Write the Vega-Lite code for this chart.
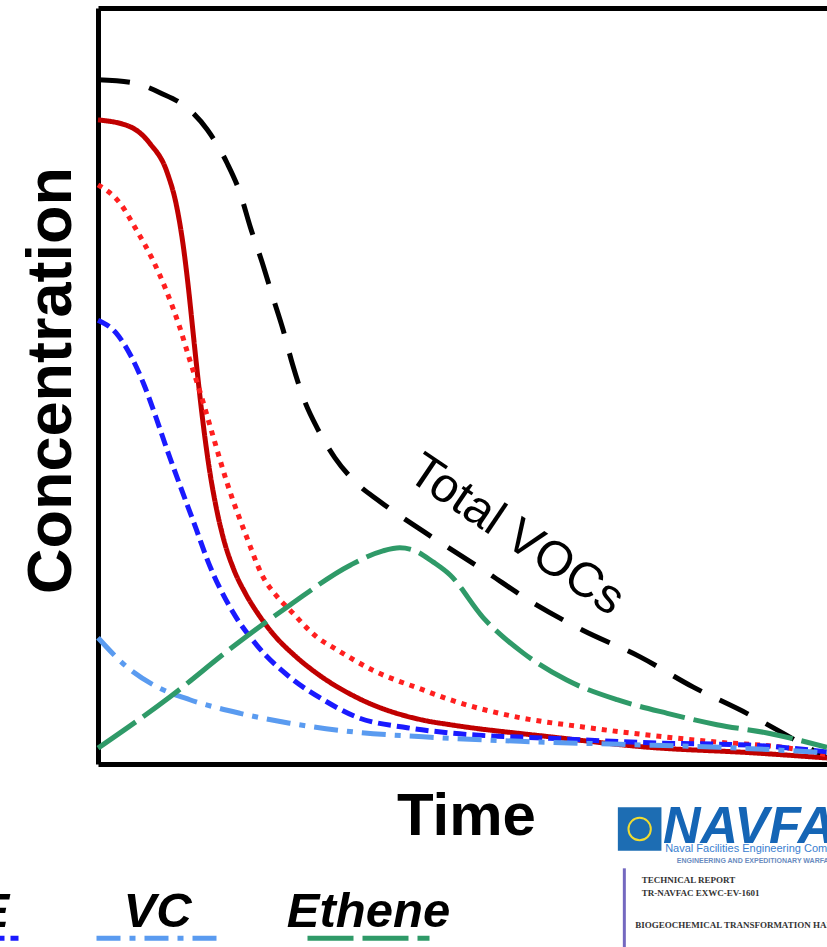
{
  "$schema": "https://vega.github.io/schema/vega-lite/v6.json",
  "width": 729,
  "height": 756,
  "autosize": {"type": "none"},
  "padding": {"left": 98, "top": 8, "right": 0, "bottom": 183},
  "background": "white",
  "config": {
    "view": {"stroke": null},
    "legend": {
      "orient": "none",
      "legendX": -604,
      "legendY": 866.5,
      "direction": "horizontal",
      "padding": 0,
      "symbolType": "stroke",
      "symbolSize": 14884,
      "symbolStrokeWidth": 5,
      "labelFont": "Liberation Sans",
      "labelFontSize": 49,
      "labelFontStyle": "italic",
      "labelFontWeight": "bold",
      "labelColor": "black",
      "labelAlign": "center",
      "labelBaseline": "line-bottom",
      "labelLineHeight": 55,
      "labelOffset": -63.5,
      "labelLimit": 400,
      "columnPadding": 57
    }
  },
  "datasets": {
    "voc": [
      {"t": 0, "c": 90.5}, {"t": 4.8, "c": 90.1}, {"t": 8.5, "c": 88.8}, {"t": 12.6, "c": 86.5},
      {"t": 15.0, "c": 83.9}, {"t": 17.7, "c": 79.5}, {"t": 19.5, "c": 75.5}, {"t": 20.9, "c": 71.0},
      {"t": 22.5, "c": 66.4}, {"t": 23.9, "c": 62.0}, {"t": 25.4, "c": 57.4}, {"t": 26.7, "c": 52.8},
      {"t": 28.3, "c": 48.1}, {"t": 30.2, "c": 44.2}, {"t": 32.5, "c": 40.5}, {"t": 35.3, "c": 37.3},
      {"t": 38.7, "c": 34.7}, {"t": 44.9, "c": 30.6}, {"t": 52.8, "c": 25.7}, {"t": 59.7, "c": 21.3},
      {"t": 66.5, "c": 17.7}, {"t": 74.3, "c": 14.2}, {"t": 81.6, "c": 10.2}, {"t": 89.0, "c": 6.7},
      {"t": 96.3, "c": 2.8}, {"t": 100, "c": 0.8}
    ],
    "chem": [
      {"series": "PCE", "t": 0, "c": 85.2}, {"series": "PCE", "t": 4.4, "c": 84.3}, {"series": "PCE", "t": 7.1, "c": 82.1},
      {"series": "PCE", "t": 9.5, "c": 78.2}, {"series": "PCE", "t": 10.8, "c": 73.7}, {"series": "PCE", "t": 11.7, "c": 68.5},
      {"series": "PCE", "t": 12.4, "c": 63.0}, {"series": "PCE", "t": 13.0, "c": 57.5}, {"series": "PCE", "t": 13.6, "c": 52.0},
      {"series": "PCE", "t": 14.3, "c": 46.0}, {"series": "PCE", "t": 15.2, "c": 39.5}, {"series": "PCE", "t": 16.2, "c": 34.0},
      {"series": "PCE", "t": 17.3, "c": 29.5}, {"series": "PCE", "t": 18.6, "c": 25.8}, {"series": "PCE", "t": 20.2, "c": 22.6},
      {"series": "PCE", "t": 22.0, "c": 19.8}, {"series": "PCE", "t": 24.2, "c": 17.0}, {"series": "PCE", "t": 26.8, "c": 14.5},
      {"series": "PCE", "t": 30.0, "c": 12.0}, {"series": "PCE", "t": 35.5, "c": 8.8}, {"series": "PCE", "t": 44.6, "c": 5.8},
      {"series": "PCE", "t": 48.3, "c": 5.2}, {"series": "PCE", "t": 62.0, "c": 3.6},
      {"series": "PCE", "t": 75.7, "c": 2.2}, {"series": "PCE", "t": 89.4, "c": 1.5}, {"series": "PCE", "t": 100, "c": 0.8},

      {"series": "TCE", "t": 0, "c": 76.6}, {"series": "TCE", "t": 3.0, "c": 74.2}, {"series": "TCE", "t": 5.3, "c": 70.6},
      {"series": "TCE", "t": 7.5, "c": 66.7}, {"series": "TCE", "t": 9.5, "c": 62.3}, {"series": "TCE", "t": 11.2, "c": 57.8},
      {"series": "TCE", "t": 12.6, "c": 53.4}, {"series": "TCE", "t": 14.0, "c": 49.2}, {"series": "TCE", "t": 15.8, "c": 43.3},
      {"series": "TCE", "t": 17.7, "c": 37.2}, {"series": "TCE", "t": 20.4, "c": 30.0}, {"series": "TCE", "t": 22.5, "c": 25.0},
      {"series": "TCE", "t": 24.6, "c": 22.1}, {"series": "TCE", "t": 26.3, "c": 20.4}, {"series": "TCE", "t": 30.0, "c": 16.8},
      {"series": "TCE", "t": 32.8, "c": 15.1}, {"series": "TCE", "t": 37.7, "c": 12.4}, {"series": "TCE", "t": 44.6, "c": 9.8},
      {"series": "TCE", "t": 48.3, "c": 8.5}, {"series": "TCE", "t": 57.5, "c": 6.2}, {"series": "TCE", "t": 66.5, "c": 4.9},
      {"series": "TCE", "t": 75.7, "c": 3.8}, {"series": "TCE", "t": 84.9, "c": 2.9}, {"series": "TCE", "t": 94.0, "c": 2.2},
      {"series": "TCE", "t": 100, "c": 1.2},

      {"series": "DCE", "t": 0, "c": 58.7}, {"series": "DCE", "t": 2.5, "c": 57.0}, {"series": "DCE", "t": 4.5, "c": 54.0},
      {"series": "DCE", "t": 6.3, "c": 50.2}, {"series": "DCE", "t": 7.9, "c": 46.0}, {"series": "DCE", "t": 9.5, "c": 41.5},
      {"series": "DCE", "t": 11.5, "c": 36.2}, {"series": "DCE", "t": 13.5, "c": 31.0}, {"series": "DCE", "t": 15.0, "c": 27.0},
      {"series": "DCE", "t": 18.5, "c": 20.1},
      {"series": "DCE", "t": 21.8, "c": 15.7}, {"series": "DCE", "t": 26.3, "c": 11.5}, {"series": "DCE", "t": 30.9, "c": 8.5},
      {"series": "DCE", "t": 35.5, "c": 6.2}, {"series": "DCE", "t": 42.4, "c": 4.8}, {"series": "DCE", "t": 48.3, "c": 4.1},
      {"series": "DCE", "t": 62.0, "c": 3.4}, {"series": "DCE", "t": 75.7, "c": 2.8}, {"series": "DCE", "t": 89.4, "c": 2.5},
      {"series": "DCE", "t": 100, "c": 1.6},

      {"series": "VC", "t": 0, "c": 16.7}, {"series": "VC", "t": 4.0, "c": 12.8}, {"series": "VC", "t": 8.1, "c": 10.2},
      {"series": "VC", "t": 12.6, "c": 8.5}, {"series": "VC", "t": 19.5, "c": 6.7}, {"series": "VC", "t": 26.3, "c": 5.4},
      {"series": "VC", "t": 35.5, "c": 4.2}, {"series": "VC", "t": 44.6, "c": 3.6}, {"series": "VC", "t": 57.9, "c": 3.0},
      {"series": "VC", "t": 71.6, "c": 2.6}, {"series": "VC", "t": 85.3, "c": 2.2}, {"series": "VC", "t": 100, "c": 1.5},

      {"series": "Ethene", "t": 0, "c": 2.1}, {"series": "Ethene", "t": 9.9, "c": 8.9}, {"series": "Ethene", "t": 18.5, "c": 15.5},
      {"series": "Ethene", "t": 26.3, "c": 21.0}, {"series": "Ethene", "t": 34.6, "c": 26.3}, {"series": "Ethene", "t": 39.1, "c": 28.2},
      {"series": "Ethene", "t": 41.4, "c": 28.6}, {"series": "Ethene", "t": 43.5, "c": 28.2}, {"series": "Ethene", "t": 46.0, "c": 26.7},
      {"series": "Ethene", "t": 48.3, "c": 25.0}, {"series": "Ethene", "t": 52.8, "c": 19.4}, {"series": "Ethene", "t": 58.3, "c": 14.7},
      {"series": "Ethene", "t": 64.3, "c": 11.1}, {"series": "Ethene", "t": 71.2, "c": 8.5}, {"series": "Ethene", "t": 78.1, "c": 6.7},
      {"series": "Ethene", "t": 84.9, "c": 5.2}, {"series": "Ethene", "t": 91.8, "c": 4.1}, {"series": "Ethene", "t": 100, "c": 2.2}
    ],
    "label": [{"t": 57.4, "c": 30.3, "text": "Total VOCs"}],
    "logoTitle": [{"t": 77.5, "c": -10.4, "text": "NAVFAC"}],
    "logoBand": [{"t": 77.8, "c": -11.7, "text": "Naval Facilities Engineering Command"}],
    "logoSub": [{"t": 79.4, "c": -13.1, "text": "ENGINEERING AND EXPEDITIONARY WARFARE CENTER"}],
    "emblem": [{"t": 74.3, "c": -8.6}],
    "report": [
      {"t": 74.6, "c": -15.7, "text": "TECHNICAL REPORT"},
      {"t": 74.6, "c": -17.5, "text": "TR-NAVFAC EXWC-EV-1601"},
      {"t": 73.7, "c": -21.7, "text": "BIOGEOCHEMICAL TRANSFORMATION HANDBOOK"}
    ],
    "bar": [{"t": 72.2, "c": -13.8, "c2": -24.5}]
  },
  "resolve": {"axis": {"x": "independent", "y": "independent"}},
  "layer": [
    {
      "data": {"name": "voc"},
      "mark": {"type": "line", "color": "black", "strokeWidth": 5, "strokeDash": [32, 20], "interpolate": "monotone"},
      "encoding": {
        "x": {"field": "t", "type": "quantitative", "scale": {"domain": [0, 100], "nice": false, "zero": false},
          "axis": {"orient": "bottom", "title": "Time", "labels": false, "ticks": false, "grid": false,
            "domainColor": "black", "domainWidth": 5, "titleFont": "Liberation Sans", "titleFontSize": 60,
            "titleFontWeight": "bold", "titleColor": "black", "titlePadding": 23, "titleX": 368}},
        "y": {"field": "c", "type": "quantitative", "scale": {"domain": [0, 100], "nice": false, "zero": false},
          "axis": {"orient": "left", "title": "Concentration", "labels": false, "ticks": false, "grid": false,
            "domainColor": "black", "domainWidth": 5, "titleFont": "Liberation Sans", "titleFontSize": 63,
            "titleFontWeight": "bold", "titleColor": "black", "titlePadding": 15, "titleY": 372}}
      }
    },
    {
      "data": {"name": "chem"},
      "mark": {"type": "line", "strokeWidth": 5, "interpolate": "monotone"},
      "encoding": {
        "x": {"field": "t", "type": "quantitative",
          "axis": {"orient": "top", "title": null, "labels": false, "ticks": false, "grid": false,
            "domainColor": "black", "domainWidth": 5}},
        "y": {"field": "c", "type": "quantitative", "axis": null},
        "color": {"field": "series", "type": "nominal", "title": null,
          "scale": {"domain": ["PCE", "TCE", "DCE", "VC", "Ethene"],
            "range": ["#c00000", "#ff1f1f", "#1a1aff", "#5a9bf0", "#2f9a68"]}},
        "strokeDash": {"field": "series", "type": "nominal", "title": null,
          "scale": {"domain": ["PCE", "TCE", "DCE", "VC", "Ethene"],
            "range": [[1, 0], [5, 6], [13, 6], [24, 9, 6, 9], [46, 9]]}}
      }
    },
    {
      "data": {"name": "label"},
      "mark": {"type": "text", "font": "Liberation Sans", "fontSize": 49, "angle": 34, "align": "center", "baseline": "middle", "color": "black"},
      "encoding": {
        "x": {"field": "t", "type": "quantitative", "axis": null},
        "y": {"field": "c", "type": "quantitative", "axis": null},
        "text": {"field": "text"}
      }
    },
    {
      "data": {"name": "emblem"},
      "mark": {"type": "point", "shape": "square", "filled": true, "size": 1900, "color": "#1d6db3", "opacity": 1},
      "encoding": {
        "x": {"field": "t", "type": "quantitative", "axis": null},
        "y": {"field": "c", "type": "quantitative", "axis": null}
      }
    },
    {
      "data": {"name": "emblem"},
      "mark": {"type": "point", "shape": "circle", "filled": false, "size": 500, "color": "#f0dc30", "strokeWidth": 2, "opacity": 1},
      "encoding": {
        "x": {"field": "t", "type": "quantitative", "axis": null},
        "y": {"field": "c", "type": "quantitative", "axis": null}
      }
    },
    {
      "data": {"name": "logoTitle"},
      "mark": {"type": "text", "font": "Liberation Sans", "fontSize": 52, "fontWeight": "bold", "fontStyle": "italic", "align": "left", "baseline": "alphabetic", "color": "#1565b5"},
      "encoding": {
        "x": {"field": "t", "type": "quantitative", "axis": null},
        "y": {"field": "c", "type": "quantitative", "axis": null},
        "text": {"field": "text"}
      }
    },
    {
      "data": {"name": "logoBand"},
      "mark": {"type": "text", "font": "Liberation Sans", "fontSize": 11, "align": "left", "baseline": "alphabetic", "color": "#3a80d0"},
      "encoding": {
        "x": {"field": "t", "type": "quantitative", "axis": null},
        "y": {"field": "c", "type": "quantitative", "axis": null},
        "text": {"field": "text"}
      }
    },
    {
      "data": {"name": "logoSub"},
      "mark": {"type": "text", "font": "Liberation Sans", "fontSize": 7, "fontWeight": "bold", "align": "left", "baseline": "alphabetic", "color": "#6a8cc0"},
      "encoding": {
        "x": {"field": "t", "type": "quantitative", "axis": null},
        "y": {"field": "c", "type": "quantitative", "axis": null},
        "text": {"field": "text"}
      }
    },
    {
      "data": {"name": "bar"},
      "mark": {"type": "rule", "color": "#7468c0", "strokeWidth": 3},
      "encoding": {
        "x": {"field": "t", "type": "quantitative", "axis": null},
        "y": {"field": "c", "type": "quantitative", "axis": null},
        "y2": {"field": "c2"}
      }
    },
    {
      "data": {"name": "report"},
      "mark": {"type": "text", "font": "Liberation Serif", "fontSize": 9, "fontWeight": "bold", "align": "left", "baseline": "alphabetic", "color": "#333333"},
      "encoding": {
        "x": {"field": "t", "type": "quantitative", "axis": null},
        "y": {"field": "c", "type": "quantitative", "axis": null},
        "text": {"field": "text"}
      }
    }
  ]
}
